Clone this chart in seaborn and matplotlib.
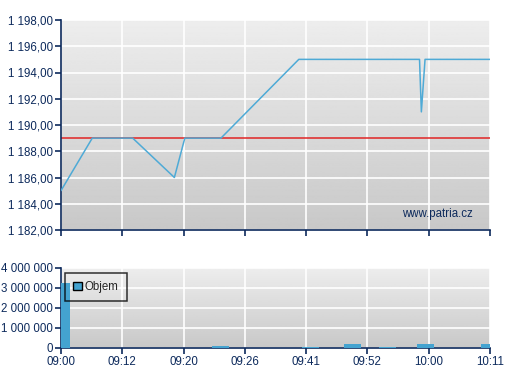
import numpy as np
import pandas as pd
import matplotlib
matplotlib.use("Agg")
import matplotlib.pyplot as plt
import seaborn as sns

# ---- data (x in tick-slot units: 0 = 09:00 ... 7 = 10:11) ----
tick_labels = ["09:00", "09:12", "09:20", "09:26", "09:41", "09:52", "10:00", "10:11"]
price_x = [0.0, 0.51, 1.17, 1.85, 2.02, 2.61, 3.88, 5.85, 5.88, 5.94, 7.0]
price_y = [1185, 1189, 1189, 1186, 1189, 1189, 1195, 1195, 1191, 1195, 1195]
ref_price = 1189
vol_x = [0.0, 2.60, 4.07, 4.76, 5.33, 5.95, 7.0]
vol_y = [3250000, 120000, 60000, 210000, 60000, 210000, 210000]
price_ticks = [1182, 1184, 1186, 1188, 1190, 1192, 1194, 1196, 1198]
vol_ticks = [0, 1000000, 2000000, 3000000, 4000000]

sns.set_theme(style="white")
plt.rcParams["font.family"] = ["Liberation Sans", "DejaVu Sans"]
navy = "#0d2a5c"
line_c = "#4eaad6"
bar_c = "#44a3d0"
fs = 8.3

fig = plt.figure(figsize=(5.07, 3.80), dpi=100)
ax1 = fig.add_axes([61/507, 150/380, 429/507, 210/380])
ax2 = fig.add_axes([61/507, 32/380, 429/507, 80/380])

grad = np.linspace(0.93, 0.785, 256).reshape(-1, 1)

def style(ax, ymin, ymax, yticks):
    ax.imshow(grad, cmap="gray", vmin=0, vmax=1, aspect="auto",
              extent=[0, 7, ymin, ymax], origin="upper", zorder=0)
    ax.set_xlim(0, 7)
    ax.set_ylim(ymin, ymax)
    ax.set_xticks(range(8))
    ax.set_yticks(yticks)
    ax.grid(True, color="white", linewidth=1.2, zorder=0.5)
    ax.set_axisbelow(True)
    for s in ["top", "right"]:
        ax.spines[s].set_visible(False)
    for s in ["left", "bottom"]:
        ax.spines[s].set_color(navy)
        ax.spines[s].set_linewidth(1.2)
    ax.tick_params(axis="both", direction="out", length=4, width=1.2,
                   color=navy, labelcolor=navy, labelsize=fs, pad=2,
                   left=True, bottom=True)
    ax.set_xlabel("")
    ax.set_ylabel("")

# ---- price panel ----
pdf = pd.DataFrame({"x": price_x, "y": price_y})
sns.lineplot(data=pdf, x="x", y="y", ax=ax1, color=line_c, linewidth=1.1,
             zorder=3, estimator=None, sort=False)
ax1.axhline(ref_price, color="#e02424", linewidth=1.1, zorder=2)
style(ax1, 1182, 1198, price_ticks)
ax1.set_xticklabels([])
ax1.set_yticklabels([f"1 {v-1000:d},00" for v in price_ticks])
ax1.text(0.960, 0.075, "www.patria.cz", transform=ax1.transAxes, ha="right",
         va="center", color=navy, fontsize=fs)

# ---- volume panel ----
vdf = pd.DataFrame({"x": vol_x, "y": vol_y})
min_gap = np.min(np.diff(np.unique(vol_x)))
sns.barplot(data=vdf, x="x", y="y", ax=ax2, native_scale=True, color=bar_c,
            width=0.28 / min_gap, saturation=1, label="Objem", zorder=3,
            linewidth=0)
style(ax2, 0, 4000000, vol_ticks)
ax2.set_xticklabels(tick_labels)
ax2.set_yticklabels([f"{v:,}".replace(",", " ") for v in vol_ticks])
h = [matplotlib.patches.Patch(facecolor=bar_c, edgecolor="black", linewidth=1)]
leg = ax2.legend(h, ["Objem"], loc="upper left", bbox_to_anchor=(0.0093, 0.9375),
                 fontsize=fs, frameon=True, fancybox=False, handlelength=0.75,
                 handleheight=0.75, handletextpad=0.25, borderpad=0.7,
                 borderaxespad=0)
leg.get_frame().set_edgecolor("black")
leg.get_frame().set_facecolor("none")
leg.get_frame().set_linewidth(1.1)

fig.savefig("out.png", dpi=100, facecolor="white")
